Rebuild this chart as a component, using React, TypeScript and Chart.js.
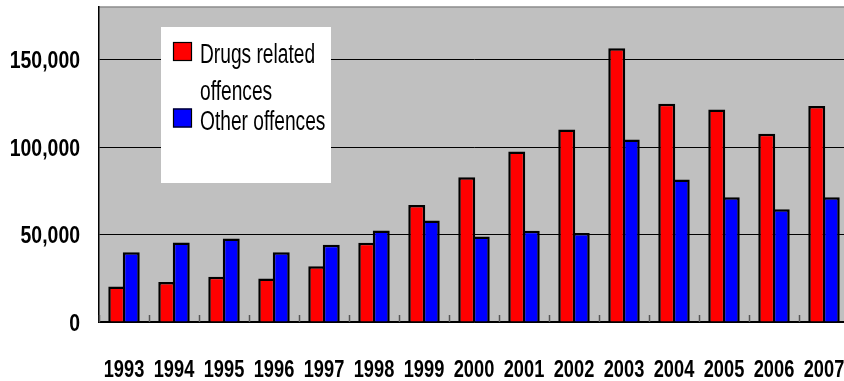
import React, { useEffect, useRef } from "react";
import { Chart, registerables } from "chart.js";

Chart.register(...registerables);

const years = ["1993", "1994", "1995", "1996", "1997", "1998", "1999", "2000", "2001", "2002", "2003", "2004", "2005", "2006", "2007"];
const drugsRelated = [20300, 22800, 25800, 24900, 31900, 45300, 66800, 82700, 97400, 110000, 156400, 124700, 121400, 107600, 123500];
const otherOffences = [39800, 45400, 47700, 39800, 44200, 52300, 58000, 48800, 52100, 50900, 104300, 81500, 71300, 64400, 71300];
const seriesNames = ["Drugs related offences", "Other offences"];
const seriesColors = ["#FF0000", "#0000FF"];
const yTicks = [0, 50000, 100000, 150000];
const yMax = 180000;

const FONT = '"Liberation Sans", Arial, sans-serif';

function drawSqueezed(ctx: any, text: string, x: number, baseline: number, sx: number, align: string) {
  ctx.save();
  ctx.translate(x, baseline);
  ctx.scale(sx, 1);
  ctx.textAlign = align;
  ctx.textBaseline = "alphabetic";
  ctx.fillText(text, 0, 0);
  ctx.restore();
}

const plotPlugin = {
  id: "plotDecor",
  beforeDraw(chart: any) {
    const { ctx, chartArea } = chart;
    ctx.save();
    ctx.fillStyle = "#C0C0C0";
    ctx.fillRect(chartArea.left, chartArea.top, chartArea.right - chartArea.left, chartArea.bottom - chartArea.top);
    ctx.strokeStyle = "#8C8C8C";
    ctx.lineWidth = 1.5;
    ctx.beginPath();
    ctx.moveTo(chartArea.left, chartArea.top);
    ctx.lineTo(chartArea.right, chartArea.top);
    ctx.stroke();
    ctx.restore();
  },
  afterDatasetsDraw(chart: any) {
    const { ctx, chartArea } = chart;
    const xs = chart.scales.x;
    const n = chart.data.labels.length;
    const w = xs.getPixelForValue(1) - xs.getPixelForValue(0);
    ctx.save();
    ctx.strokeStyle = "#555555";
    ctx.lineWidth = 1.5;
    for (let i = 0; i <= n; i++) {
      const bx = Math.round(xs.getPixelForValue(i) - w / 2) + 0.5;
      ctx.beginPath();
      ctx.moveTo(bx, chartArea.bottom);
      ctx.lineTo(bx, chartArea.bottom - 7);
      ctx.stroke();
    }
    ctx.restore();
  },
  afterDraw(chart: any) {
    const { ctx, chartArea } = chart;
    const xs = chart.scales.x;
    const ys = chart.scales.y;
    ctx.save();
    ctx.fillStyle = "#000000";
    // y tick labels
    ctx.font = `bold 24px ${FONT}`;
    ys.ticks.forEach((t: any) => {
      const y = ys.getPixelForValue(t.value);
      drawSqueezed(ctx, Number(t.value).toLocaleString("en-US"), chartArea.left - 19, y + 8.6, 0.81, "right");
    });
    // x tick labels
    chart.data.labels.forEach((lb: string, i: number) => {
      const x = xs.getPixelForValue(i);
      drawSqueezed(ctx, lb, x, chartArea.bottom + 54.5, 0.76, "center");
    });
    // legend
    const boxX = 161, boxY = 27, boxW = 170, boxH = 156;
    ctx.fillStyle = "#FFFFFF";
    ctx.fillRect(boxX, boxY, boxW, boxH);
    const sx = 0.71;
    ctx.font = `27px ${FONT}`;
    const maxW = 140;
    const swX = boxX + 12;
    const textX = boxX + 39;
    let baseline = boxY + 36;
    chart.data.datasets.forEach((ds: any) => {
      const words = String(ds.label).split(" ");
      const lines: string[] = [];
      let cur = "";
      words.forEach((wd) => {
        const test = cur ? cur + " " + wd : wd;
        if (ctx.measureText(test).width * sx > maxW && cur) {
          lines.push(cur);
          cur = wd;
        } else cur = test;
      });
      if (cur) lines.push(cur);
      ctx.fillStyle = ds.backgroundColor;
      ctx.fillRect(swX, baseline - 21, 19, 19);
      ctx.strokeStyle = "#000000";
      ctx.lineWidth = 1.2;
      ctx.strokeRect(swX + 0.5, baseline - 20.5, 18, 18);
      ctx.fillStyle = "#000000";
      lines.forEach((ln, li) => {
        drawSqueezed(ctx, ln, textX, baseline, sx, "left");
        baseline += li < lines.length - 1 ? 36.5 : 30;
      });
    });
    ctx.restore();
  },
};

export default function App() {
  const ref = useRef<HTMLCanvasElement | null>(null);
  useEffect(() => {
    if (!ref.current) return;
    const chart = new Chart(ref.current, {
      type: "bar",
      data: {
        labels: years,
        datasets: [
          { label: seriesNames[0], data: drugsRelated, backgroundColor: seriesColors[0], borderColor: "#000000", borderWidth: 2.5 },
          { label: seriesNames[1], data: otherOffences, backgroundColor: seriesColors[1], borderColor: "#000000", borderWidth: 2.5 },
        ],
      },
      options: {
        responsive: false,
        animation: false,
        layout: { padding: { left: 0, top: 7, right: 1, bottom: 0 } },
        datasets: { bar: { categoryPercentage: 0.58, barPercentage: 1.17 } },
        plugins: { legend: { display: false }, tooltip: { enabled: false } },
        scales: {
          x: {
            grid: { display: true, drawOnChartArea: false, drawTicks: false, color: "rgba(0,0,0,0)" },
            border: { display: true, color: "#000000", width: 1.5 },
            ticks: { display: false },
            afterFit: (s: any) => { s.height = 59; },
          },
          y: {
            min: 0,
            max: yMax,
            grid: { color: "#000000", lineWidth: 1, drawTicks: false },
            border: { display: true, color: "#000000", width: 1.5 },
            ticks: { display: false },
            afterBuildTicks: (s: any) => { s.ticks = yTicks.map((v) => ({ value: v })); },
            afterFit: (s: any) => { s.width = 99; },
          },
        },
      },
      plugins: [plotPlugin],
    });
    return () => chart.destroy();
  }, []);
  return (
    <div style={{ position: "fixed", left: 0, top: 0, width: 844, height: 381, overflow: "hidden", background: "#FFFFFF" }}>
      <canvas ref={ref} width={850} height={381} style={{ display: "block" }} />
    </div>
  );
}
